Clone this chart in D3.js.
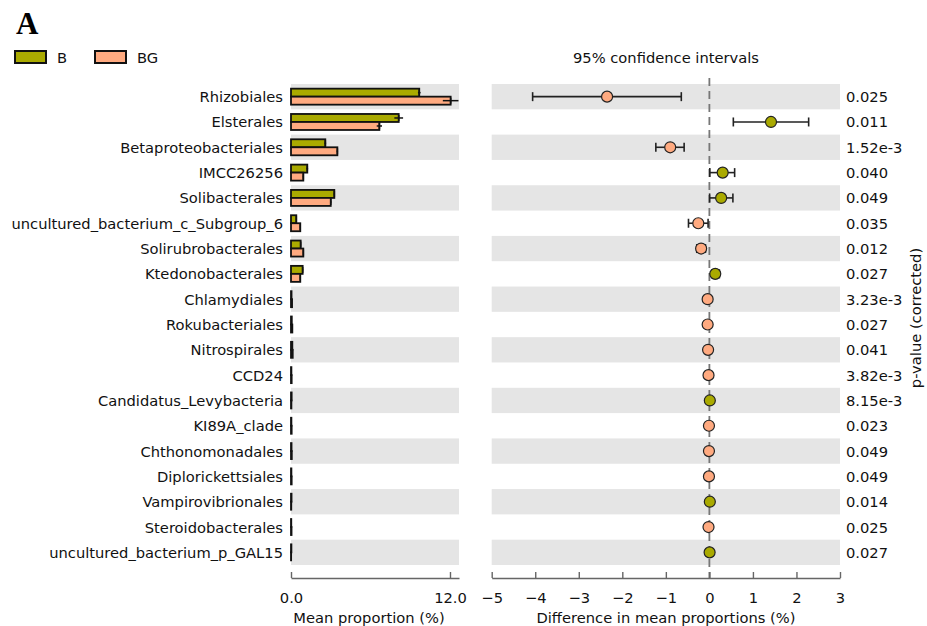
<!DOCTYPE html>
<html lang="en">
	<head>
		<meta charset="utf-8">
		<title>D3: Extended error bar plot</title>
		<script type="text/javascript" src="https://cdn.jsdelivr.net/npm/d3@7"></script>
		<style type="text/css">
		body { margin: 0; background: #fff; }
		text { font-family: "DejaVu Sans", sans-serif; font-size: 14.7px; fill: #111; }
		.axis path, .axis line { stroke: #666; stroke-width: 1.4; }
		.axis text { font-size: 14.7px; fill: #111; }
		</style>
	</head>
	<body>
		<script type="text/javascript">

		//Width and height
		var w = 927;
		var h = 626;

		//Data
		var taxa = ["Rhizobiales", "Elsterales", "Betaproteobacteriales", "IMCC26256", "Solibacterales",
			"uncultured_bacterium_c_Subgroup_6", "Solirubrobacterales", "Ktedonobacterales", "Chlamydiales",
			"Rokubacteriales", "Nitrospirales", "CCD24", "Candidatus_Levybacteria", "KI89A_clade",
			"Chthonomonadales", "Diplorickettsiales", "Vampirovibrionales", "Steroidobacterales",
			"uncultured_bacterium_p_GAL15"];
		var meanB   = [9.68, 8.13, 2.59, 1.23, 3.27, 0.40, 0.73, 0.88, 0.04, 0.06, 0.10, 0.03, 0.05, 0.03, 0.04, 0.03, 0.04, 0.02, 0.03];
		var errB    = [0.10, 0.33, 0.06, 0.06, 0.05, 0.03, 0.03, 0.04, 0, 0, 0, 0, 0, 0, 0, 0, 0, 0, 0];
		var meanBG  = [12.05, 6.67, 3.50, 0.93, 3.00, 0.70, 0.93, 0.70, 0.08, 0.10, 0.13, 0.05, 0.03, 0.05, 0.06, 0.05, 0.02, 0.04, 0.01];
		var errBG   = [0.59, 0.20, 0.05, 0.04, 0.05, 0.03, 0.03, 0.03, 0, 0, 0, 0, 0, 0, 0, 0, 0, 0, 0];
		var diff    = [-2.35, 1.415, -0.90, 0.305, 0.27, -0.255, -0.19, 0.135, -0.04, -0.04, -0.03, -0.02, 0.01, -0.01, -0.01, -0.01, 0.01, -0.02, 0.005];
		var ciLow   = [-4.06, 0.55, -1.23, 0.01, 0.005, -0.48, -0.29, 0.06, -0.05, -0.05, -0.04, -0.03, 0.0, -0.02, -0.02, -0.02, 0.0, -0.03, 0.0];
		var ciHigh  = [-0.645, 2.28, -0.58, 0.58, 0.54, -0.03, -0.09, 0.23, -0.03, -0.03, -0.02, -0.01, 0.02, 0.0, 0.0, 0.0, 0.02, -0.01, 0.01];
		var pValues = ["0.025", "0.011", "1.52e-3", "0.040", "0.049", "0.035", "0.012", "0.027", "3.23e-3",
			"0.027", "0.041", "3.82e-3", "8.15e-3", "0.023", "0.049", "0.049", "0.014", "0.025", "0.027"];
		var groups = ["B", "BG"];
		var colors = ["#aaaa00", "#ffaa80"];
		var meanTicks = [0, 12];
		var diffTicks = [-5, -4, -3, -2, -1, 0, 1, 2, 3];

		var rows = taxa.map(function(t, i) {
			return { name: t, b: meanB[i], eb: errB[i], bg: meanBG[i], ebg: errBG[i],
				d: diff[i], lo: ciLow[i], hi: ciHigh[i], p: pValues[i] };
		});

		//Create SVG element
		var svg = d3.select("body")
					.append("svg")
					.attr("width", w)
					.attr("height", h);

		//Scales
		var yScale = d3.scaleBand()
						.domain(taxa)
						.range([84, 565]);
		var xLeft = d3.scaleLinear()
						.domain([0, 12.68])
						.range([291, 459]);
		var xRight = d3.scaleLinear()
						.domain([-5, 3])
						.range([491.7, 840]);
		var axisY = 578;
		var barH = 8;

		//Panel label
		svg.append("text")
			.attr("x", 16)
			.attr("y", 34)
			.style("font-family", "'Liberation Serif', serif")
			.style("font-weight", "bold")
			.style("font-size", "31px")
			.style("fill", "#000")
			.text("A");

		//Legend
		var legend = svg.selectAll("g.legend")
			.data(groups)
			.enter()
			.append("g")
			.attr("class", "legend")
			.attr("transform", function(d, i) { return "translate(" + (15 + i * 80) + ",51)"; });
		legend.append("rect")
			.attr("width", 31)
			.attr("height", 12)
			.attr("fill", function(d, i) { return colors[i]; })
			.attr("stroke", "#111")
			.attr("stroke-width", 2);
		legend.append("text")
			.attr("x", 42)
			.attr("y", 6)
			.attr("dominant-baseline", "central")
			.text(function(d) { return d; });

		//Alternating background bands
		var bandRows = rows.filter(function(d, i) { return i % 2 === 0; });
		[xLeft, xRight].forEach(function(sc) {
			svg.selectAll(null)
				.data(bandRows)
				.enter()
				.append("rect")
				.attr("x", sc.range()[0])
				.attr("width", sc.range()[1] - sc.range()[0])
				.attr("y", function(d) { return yScale(d.name); })
				.attr("height", yScale.bandwidth())
				.attr("fill", "#e5e5e5");
		});

		//Row labels
		svg.selectAll("text.taxon")
			.data(rows)
			.enter()
			.append("text")
			.attr("class", "taxon")
			.attr("x", 283)
			.attr("y", function(d) { return yScale(d.name) + yScale.bandwidth() / 2; })
			.attr("text-anchor", "end")
			.attr("dominant-baseline", "central")
			.text(function(d) { return d.name; });

		//Bars, B above and BG below the row centre
		var barGroups = [
			{ key: "b", err: "eb", off: -barH, color: colors[0] },
			{ key: "bg", err: "ebg", off: 0, color: colors[1] }
		];
		barGroups.forEach(function(g) {
			svg.selectAll(null)
				.data(rows)
				.enter()
				.append("rect")
				.attr("x", xLeft(0))
				.attr("y", function(d) { return yScale(d.name) + yScale.bandwidth() / 2 + g.off; })
				.attr("width", function(d) { return xLeft(d[g.key]) - xLeft(0); })
				.attr("height", barH)
				.attr("fill", g.color)
				.attr("stroke", "#111")
				.attr("stroke-width", 1.8);

			//Error bars on the bars
			var eb = svg.selectAll(null)
				.data(rows.filter(function(d) { return d[g.err] > 0; }))
				.enter()
				.append("g")
				.attr("stroke", "#111")
				.attr("stroke-width", 1.5);
			eb.append("line")
				.attr("x1", function(d) { return xLeft(d[g.key] - d[g.err]); })
				.attr("x2", function(d) { return xLeft(d[g.key] + d[g.err]); })
				.attr("y1", function(d) { return yScale(d.name) + yScale.bandwidth() / 2 + g.off + barH / 2; })
				.attr("y2", function(d) { return yScale(d.name) + yScale.bandwidth() / 2 + g.off + barH / 2; });
			eb.append("line")
				.attr("x1", function(d) { return xLeft(d[g.key]); })
				.attr("x2", function(d) { return xLeft(d[g.key]); })
				.attr("y1", function(d) { return yScale(d.name) + yScale.bandwidth() / 2 + g.off + 1; })
				.attr("y2", function(d) { return yScale(d.name) + yScale.bandwidth() / 2 + g.off + barH - 1; });
		});

		//Zero line for the differences
		svg.append("line")
			.attr("x1", xRight(0))
			.attr("x2", xRight(0))
			.attr("y1", 78)
			.attr("y2", axisY)
			.attr("stroke", "#777")
			.attr("stroke-width", 1.8)
			.attr("stroke-dasharray", "8,5");

		//Confidence intervals
		var ci = svg.selectAll("g.ci")
			.data(rows)
			.enter()
			.append("g")
			.attr("class", "ci")
			.attr("stroke", "#222")
			.attr("stroke-width", 1.6);
		ci.append("line")
			.attr("x1", function(d) { return xRight(d.lo); })
			.attr("x2", function(d) { return xRight(d.hi); })
			.attr("y1", function(d) { return yScale(d.name) + yScale.bandwidth() / 2; })
			.attr("y2", function(d) { return yScale(d.name) + yScale.bandwidth() / 2; });
		["lo", "hi"].forEach(function(k) {
			ci.filter(function(d) { return d.hi - d.lo > 0.05; })
				.append("line")
				.attr("x1", function(d) { return xRight(d[k]); })
				.attr("x2", function(d) { return xRight(d[k]); })
				.attr("y1", function(d) { return yScale(d.name) + yScale.bandwidth() / 2 - 4.5; })
				.attr("y2", function(d) { return yScale(d.name) + yScale.bandwidth() / 2 + 4.5; });
		});
		ci.append("circle")
			.attr("cx", function(d) { return xRight(d.d); })
			.attr("cy", function(d) { return yScale(d.name) + yScale.bandwidth() / 2; })
			.attr("r", 5.5)
			.attr("fill", function(d) { return d.d > 0 ? colors[0] : colors[1]; })
			.attr("stroke", "#222")
			.attr("stroke-width", 1.2);

		//p-values
		svg.selectAll("text.pval")
			.data(rows)
			.enter()
			.append("text")
			.attr("class", "pval")
			.attr("x", 846)
			.attr("y", function(d) { return yScale(d.name) + yScale.bandwidth() / 2; })
			.attr("dominant-baseline", "central")
			.text(function(d) { return d.p; });

		svg.append("text")
			.attr("transform", "translate(915,318) rotate(-90)")
			.attr("text-anchor", "middle")
			.attr("dominant-baseline", "central")
			.text("p-value (corrected)");

		//Axes
		var leftAxis = d3.axisBottom(xLeft)
						.tickValues(meanTicks)
						.tickSizeInner(-6)
						.tickSizeOuter(0)
						.tickPadding(15)
						.tickFormat(d3.format(".1f"));
		var rightAxis = d3.axisBottom(xRight)
						.tickValues(diffTicks)
						.tickSizeInner(-6)
						.tickSizeOuter(0)
						.tickPadding(15)
						.tickFormat(function(d) { return d < 0 ? "\u2212" + Math.abs(d) : d; });

		svg.append("g")
			.attr("class", "axis")
			.attr("transform", "translate(0," + axisY + ")")
			.call(leftAxis);
		svg.append("g")
			.attr("class", "axis")
			.attr("transform", "translate(0," + axisY + ")")
			.call(rightAxis);

		//Titles
		svg.append("text")
			.attr("x", 666)
			.attr("y", 57)
			.attr("text-anchor", "middle")
			.attr("dominant-baseline", "central")
			.text("95% confidence intervals");
		svg.append("text")
			.attr("x", 369)
			.attr("y", 617)
			.attr("text-anchor", "middle")
			.attr("dominant-baseline", "central")
			.text("Mean proportion (%)");
		svg.append("text")
			.attr("x", 666)
			.attr("y", 617)
			.attr("text-anchor", "middle")
			.attr("dominant-baseline", "central")
			.text("Difference in mean proportions (%)");

		</script>
	</body>
</html>
